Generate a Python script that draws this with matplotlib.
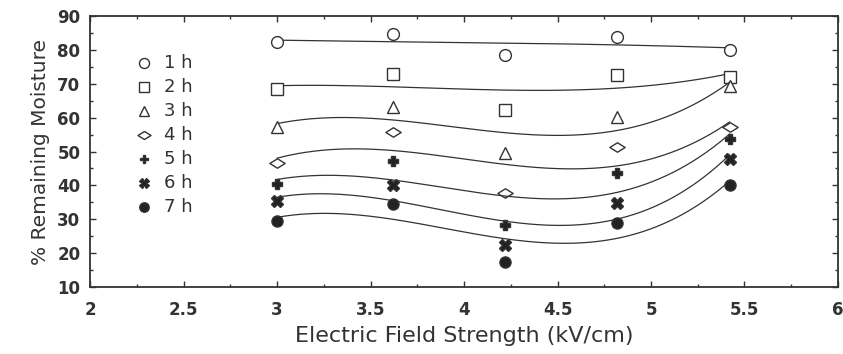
import numpy as np
from matplotlib import pyplot as plt
from matplotlib.ticker import MultipleLocator
from matplotlib.path import Path

# field strengths (kV/cm) and remaining moisture for each drying time
field = [3.0, 3.62, 4.22, 4.82, 5.42]
labels = ['1 h', '2 h', '3 h', '4 h', '5 h', '6 h', '7 h']
m1 = [82.3, 84.7, 78.5, 83.8, 80.0]
m2 = [68.5, 72.9, 62.3, 72.6, 72.0]
m3 = [57.3, 63.2, 49.6, 60.2, 69.4]
m4 = [46.7, 55.8, 37.8, 51.4, 57.3]
m5 = [40.4, 47.2, 28.3, 43.7, 53.7]
m6 = [35.4, 40.1, 22.4, 34.8, 47.8]
m7 = [29.5, 34.5, 17.4, 29.0, 40.1]
series = [m1, m2, m3, m4, m5, m6, m7]

# flattened diamond like the scanned figure
flat_diamond = Path([(-1, 0), (0, 0.62), (1, 0), (0, -0.62), (-1, 0)],
                    [Path.MOVETO, Path.LINETO, Path.LINETO, Path.LINETO, Path.CLOSEPOLY])
markers = ['o', 's', '^', flat_diamond, 'P', 'X', 'o']
fills = ['white', 'white', 'white', 'white', '#222222', '#222222', '#222222']
msizes = [8.5, 8, 8, 11, 7, 8, 8]
ink = '#333333'

plt.rcParams['font.family'] = ['DejaVu Sans']
fig = plt.figure(dpi=100, figsize=(8.43, 3.54))
ax = fig.add_axes([0.107, 0.189, 0.887, 0.766])

xs = np.linspace(field[0], field[-1], 200)
for ys, mk, fc, ms in zip(series, markers, fills, msizes):
    coef = np.polyfit(field, ys, 3)
    ax.plot(xs, np.polyval(coef, xs), color=ink, lw=0.9)
    ax.plot(field, ys, ls='none', marker=mk, ms=ms, mfc=fc, mec=ink, mew=1.0)

# legend drawn as markers + text in data coords
for i, (lab, mk, fc, ms) in enumerate(zip(labels, markers, fills, msizes)):
    yv = 76.1 - i * 7.08
    ax.plot([2.29], [yv], ls='none', marker=mk, ms=ms * 0.85, mfc=fc, mec=ink, mew=1.0)
    ax.text(2.395, yv, lab, fontsize=13, va='center', ha='left', color=ink)

ax.set_xlim(2, 6)
ax.set_ylim(10, 90)
ax.xaxis.set_major_locator(MultipleLocator(0.5))
ax.xaxis.set_minor_locator(MultipleLocator(0.25))
ax.yaxis.set_major_locator(MultipleLocator(10))
ax.yaxis.set_minor_locator(MultipleLocator(5))
ax.set_xticks([2, 2.5, 3, 3.5, 4, 4.5, 5, 5.5, 6])
ax.set_xticklabels(['2', '2.5', '3', '3.5', '4', '4.5', '5', '5.5', '6'])
ax.tick_params(which='both', direction='in', top=True, right=True, labelsize=12,
               colors=ink, width=1)
ax.tick_params(which='major', length=4)
ax.tick_params(axis='x', which='major', pad=10)
ax.tick_params(axis='y', which='major', pad=7)
ax.tick_params(which='minor', length=2)
for lab in ax.get_xticklabels() + ax.get_yticklabels():
    lab.set_fontweight('bold')
for s in ax.spines.values():
    s.set_linewidth(1.3)
    s.set_color(ink)

ax.set_xlabel('Electric Field Strength (kV/cm)', fontsize=16, color=ink, labelpad=5)
ax.set_ylabel('% Remaining Moisture', fontsize=14.5, color=ink, labelpad=5)

plt.savefig('out.png')
